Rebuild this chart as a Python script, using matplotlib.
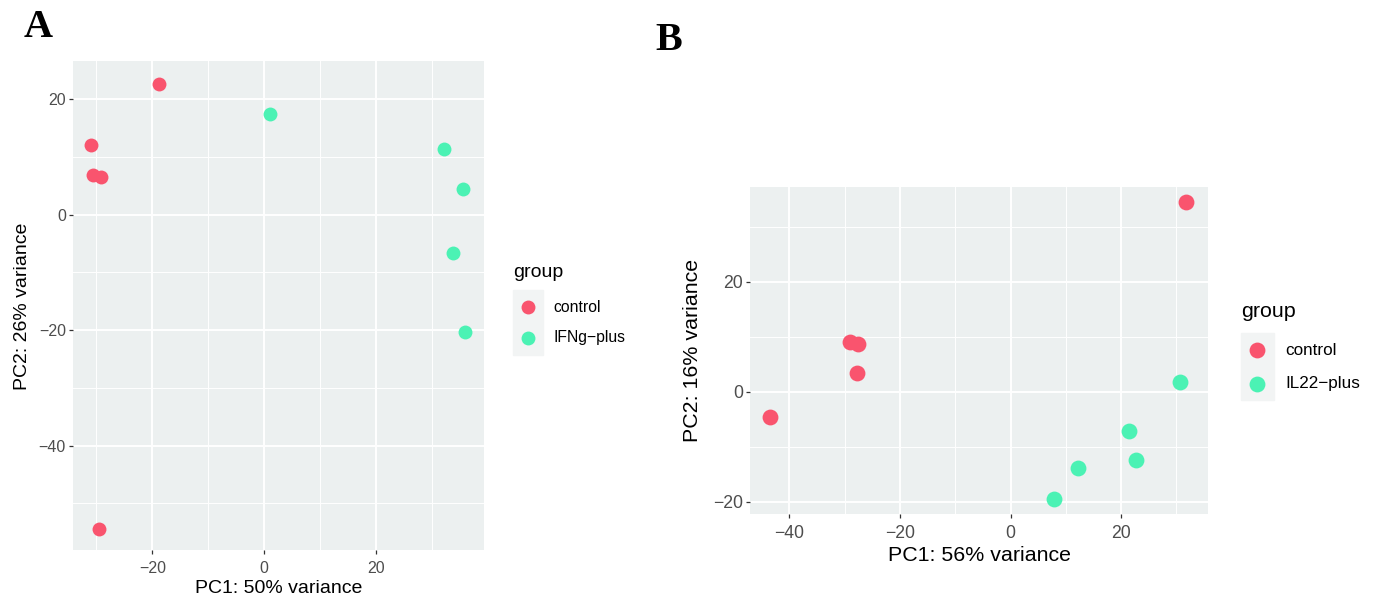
import numpy as np
import matplotlib
matplotlib.use("Agg")
import matplotlib.pyplot as plt
from matplotlib.ticker import MultipleLocator
from matplotlib.patches import Rectangle

plt.rcParams['font.family'] = ['Liberation Sans', 'DejaVu Sans']

# panel A : control vs IFNg-plus
ctrl_a_x = [-18.8, -30.9, -30.6, -29.2, -29.6]
ctrl_a_y = [22.7, 12.0, 6.9, 6.5, -54.4]
ifng_x = [1.1, 32.1, 35.5, 33.8, 35.9]
ifng_y = [17.5, 11.4, 4.5, -6.7, -20.3]

# panel B : control vs IL22-plus
ctrl_b_x = [31.8, -29.1, -27.5, -27.7, -43.4]
ctrl_b_y = [34.5, 9.0, 8.7, 3.4, -4.5]
il22_x = [30.6, 21.4, 22.7, 12.2, 7.8]
il22_y = [1.8, -7.2, -12.4, -13.8, -19.5]

ROJO = '#F9546E'
MENTA = '#4BF2B4'
FONDO = '#ECF0F0'
W, H = 1377, 608


def fx(px):
    return px / W


def fy(py):
    return 1 - py / H


def estilo_ggplot(ax, xlim, ylim, tick_size, xpad):
    ax.set_facecolor(FONDO)
    ax.set_xlim(*xlim)
    ax.set_ylim(*ylim)
    ax.xaxis.set_major_locator(MultipleLocator(20))
    ax.yaxis.set_major_locator(MultipleLocator(20))
    ax.xaxis.set_minor_locator(MultipleLocator(10))
    ax.yaxis.set_minor_locator(MultipleLocator(10))
    ax.grid(True, which='major', color='white', lw=1.4)
    ax.grid(True, which='minor', color='white', lw=0.7)
    ax.set_axisbelow(True)
    for s in ax.spines.values():
        s.set_visible(False)
    ax.tick_params(which='major', length=3.2, width=0.9, color='#333333',
                   labelcolor='#4D4D4D', labelsize=tick_size, pad=2)
    ax.tick_params(axis='x', which='major', pad=xpad)
    ax.tick_params(which='minor', length=0)


def leyenda(ax, x_titulo, y_titulo, tam_titulo, y_centro, tam, espacio):
    fig.text(fx(x_titulo), fy(y_titulo), 'group', fontsize=tam_titulo,
             ha='left', va='baseline')
    ax.legend(loc='center left', bbox_to_anchor=(fx(x_titulo), fy(y_centro)),
              bbox_transform=fig.transFigure, frameon=False, fontsize=tam,
              borderpad=0, borderaxespad=0, handlelength=1.9,
              handletextpad=0.7, labelspacing=espacio, scatterpoints=1)


fig = plt.figure(figsize=(W / 100, H / 100), dpi=100)

# ---- A
axA = fig.add_axes([fx(73), fy(550), fx(484 - 73), (550 - 61) / H])
estilo_ggplot(axA, (-34.2, 39.3), (-58.1, 26.6), 11.5, 4.5)
axA.scatter(ctrl_a_x, ctrl_a_y, s=100, color=ROJO, lw=0, label='control', zorder=3)
axA.scatter(ifng_x, ifng_y, s=100, color=MENTA, lw=0, label='IFNg\u2212plus', zorder=3)
axA.set_xlabel('PC1: 50% variance', fontsize=14)
axA.set_ylabel('PC2: 26% variance', fontsize=14)
axA.xaxis.set_label_coords((279 - 73) / 411, (550 - 580) / 489)
axA.yaxis.set_label_coords((31 - 73) / 411, (550 - 306) / 489)
fig.patches.append(Rectangle((fx(513), fy(355)), fx(30), 65 / H,
                             transform=fig.transFigure, color='#F2F4F4', zorder=-1))
leyenda(axA, 513, 277, 14, 322.5, 11.3, 1.01)

# ---- B
axB = fig.add_axes([fx(750), fy(514), fx(1208 - 750), (514 - 187) / H])
estilo_ggplot(axB, (-47.1, 35.7), (-22.2, 37.2), 12.7, 5)
axB.scatter(ctrl_b_x, ctrl_b_y, s=130, color=ROJO, lw=0, label='control', zorder=3)
axB.scatter(il22_x, il22_y, s=130, color=MENTA, lw=0, label='IL22\u2212plus', zorder=3)
axB.set_xlabel('PC1: 56% variance', fontsize=15.4)
axB.set_ylabel('PC2: 16% variance', fontsize=15.4)
axB.xaxis.set_label_coords((979 - 750) / 458, (514 - 546) / 327)
axB.yaxis.set_label_coords((702 - 750) / 458, (514 - 350) / 327)
fig.patches.append(Rectangle((fx(1241), fy(400)), fx(33), 67 / H,
                             transform=fig.transFigure, color='#F2F4F4', zorder=-1))
leyenda(axB, 1241, 317, 15.4, 367, 12.3, 1.06)

fig.text(fx(24), fy(37), 'A', fontsize=29, fontweight='bold',
         family='Liberation Serif', va='baseline', ha='left')
fig.text(fx(655), fy(50), 'B', fontsize=29, fontweight='bold',
         family='Liberation Serif', va='baseline', ha='left')

fig.savefig('out.png', dpi=100)
